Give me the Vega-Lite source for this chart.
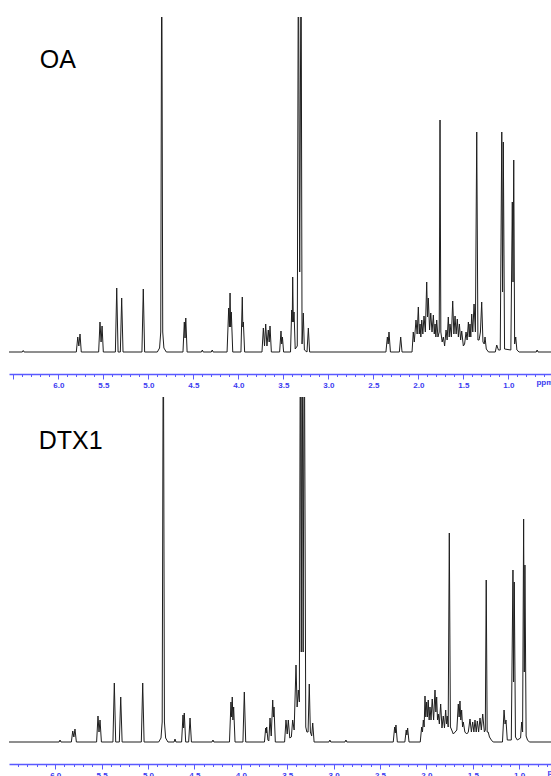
{
  "$schema": "https://vega.github.io/schema/vega-lite/v6.json",
  "padding": {"left": 9, "top": 17, "right": 0, "bottom": 0},
  "spacing": 23,
  "bounds": "flush",
  "background": "white",
  "config": {"view": {"stroke": null}},
  "datasets": {
    "oa": [
      {"ppm": 6.6, "int": 0}, {"ppm": 6.4, "int": 0}, {"ppm": 6.39, "int": 1.5}, {"ppm": 6.38, "int": 0},
      {"ppm": 5.8, "int": 0}, {"ppm": 5.784, "int": 15}, {"ppm": 5.772, "int": 6}, {"ppm": 5.759, "int": 18}, {"ppm": 5.745, "int": 0},
      {"ppm": 5.552, "int": 0}, {"ppm": 5.537, "int": 30}, {"ppm": 5.525, "int": 10}, {"ppm": 5.514, "int": 26}, {"ppm": 5.5, "int": 0},
      {"ppm": 5.366, "int": 0}, {"ppm": 5.351, "int": 64}, {"ppm": 5.336, "int": 0},
      {"ppm": 5.311, "int": 0}, {"ppm": 5.296, "int": 54}, {"ppm": 5.281, "int": 0},
      {"ppm": 5.071, "int": 0}, {"ppm": 5.056, "int": 63}, {"ppm": 5.041, "int": 0},
      {"ppm": 4.9, "int": 0}, {"ppm": 4.875, "int": 4}, {"ppm": 4.862, "int": 20}, {"ppm": 4.851, "int": 420}, {"ppm": 4.84, "int": 20}, {"ppm": 4.827, "int": 4}, {"ppm": 4.8, "int": 0},
      {"ppm": 4.615, "int": 0}, {"ppm": 4.6, "int": 30}, {"ppm": 4.592, "int": 14}, {"ppm": 4.584, "int": 34}, {"ppm": 4.569, "int": 0},
      {"ppm": 4.41, "int": 0}, {"ppm": 4.4, "int": 2}, {"ppm": 4.39, "int": 0},
      {"ppm": 4.3, "int": 0}, {"ppm": 4.29, "int": 2}, {"ppm": 4.28, "int": 0},
      {"ppm": 4.125, "int": 0}, {"ppm": 4.107, "int": 44}, {"ppm": 4.099, "int": 25}, {"ppm": 4.092, "int": 59}, {"ppm": 4.085, "int": 25}, {"ppm": 4.078, "int": 40}, {"ppm": 4.062, "int": 0},
      {"ppm": 3.971, "int": 0}, {"ppm": 3.956, "int": 55}, {"ppm": 3.95, "int": 25}, {"ppm": 3.944, "int": 30}, {"ppm": 3.93, "int": 0},
      {"ppm": 3.737, "int": 0}, {"ppm": 3.722, "int": 24}, {"ppm": 3.709, "int": 6}, {"ppm": 3.696, "int": 28}, {"ppm": 3.682, "int": 6}, {"ppm": 3.667, "int": 22}, {"ppm": 3.657, "int": 10}, {"ppm": 3.648, "int": 26}, {"ppm": 3.633, "int": 0},
      {"ppm": 3.541, "int": 0}, {"ppm": 3.526, "int": 21}, {"ppm": 3.518, "int": 8}, {"ppm": 3.51, "int": 15}, {"ppm": 3.497, "int": 0},
      {"ppm": 3.42, "int": 0}, {"ppm": 3.407, "int": 42}, {"ppm": 3.401, "int": 30}, {"ppm": 3.396, "int": 75}, {"ppm": 3.389, "int": 30}, {"ppm": 3.381, "int": 40}, {"ppm": 3.368, "int": 3},
      {"ppm": 3.345, "int": 6}, {"ppm": 3.333, "int": 420}, {"ppm": 3.318, "int": 80}, {"ppm": 3.303, "int": 420}, {"ppm": 3.292, "int": 8}, {"ppm": 3.278, "int": 39}, {"ppm": 3.266, "int": 2},
      {"ppm": 3.237, "int": 0}, {"ppm": 3.222, "int": 24}, {"ppm": 3.208, "int": 0},
      {"ppm": 2.36, "int": 0}, {"ppm": 2.344, "int": 15}, {"ppm": 2.335, "int": 8}, {"ppm": 2.326, "int": 20}, {"ppm": 2.31, "int": 0},
      {"ppm": 2.211, "int": 0}, {"ppm": 2.196, "int": 15}, {"ppm": 2.181, "int": 0},
      {"ppm": 2.07, "int": 0}, {"ppm": 2.056, "int": 20}, {"ppm": 2.045, "int": 10}, {"ppm": 2.026, "int": 32}, {"ppm": 2.013, "int": 18}, {"ppm": 2.0, "int": 45}, {"ppm": 1.99, "int": 18}, {"ppm": 1.981, "int": 28}, {"ppm": 1.972, "int": 15}, {"ppm": 1.962, "int": 32}, {"ppm": 1.95, "int": 18}, {"ppm": 1.937, "int": 36}, {"ppm": 1.922, "int": 20}, {"ppm": 1.907, "int": 70}, {"ppm": 1.898, "int": 35}, {"ppm": 1.889, "int": 54}, {"ppm": 1.875, "int": 22}, {"ppm": 1.862, "int": 39}, {"ppm": 1.848, "int": 20}, {"ppm": 1.833, "int": 37}, {"ppm": 1.823, "int": 18}, {"ppm": 1.814, "int": 28}, {"ppm": 1.805, "int": 15}, {"ppm": 1.796, "int": 32}, {"ppm": 1.782, "int": 15}, {"ppm": 1.768, "int": 20}, {"ppm": 1.759, "int": 232}, {"ppm": 1.75, "int": 20}, {"ppm": 1.735, "int": 10}, {"ppm": 1.722, "int": 15}, {"ppm": 1.708, "int": 6}, {"ppm": 1.692, "int": 22}, {"ppm": 1.68, "int": 12}, {"ppm": 1.667, "int": 35}, {"ppm": 1.657, "int": 15}, {"ppm": 1.648, "int": 28}, {"ppm": 1.633, "int": 15}, {"ppm": 1.618, "int": 51}, {"ppm": 1.605, "int": 18}, {"ppm": 1.592, "int": 36}, {"ppm": 1.58, "int": 18}, {"ppm": 1.567, "int": 33}, {"ppm": 1.555, "int": 15}, {"ppm": 1.544, "int": 28}, {"ppm": 1.53, "int": 12}, {"ppm": 1.518, "int": 21}, {"ppm": 1.5, "int": 6}, {"ppm": 1.486, "int": 8}, {"ppm": 1.47, "int": 20}, {"ppm": 1.458, "int": 12}, {"ppm": 1.444, "int": 30}, {"ppm": 1.434, "int": 15}, {"ppm": 1.426, "int": 28}, {"ppm": 1.417, "int": 15}, {"ppm": 1.407, "int": 38}, {"ppm": 1.395, "int": 20}, {"ppm": 1.381, "int": 48}, {"ppm": 1.366, "int": 20}, {"ppm": 1.351, "int": 220}, {"ppm": 1.338, "int": 12}, {"ppm": 1.325, "int": 12}, {"ppm": 1.31, "int": 20}, {"ppm": 1.296, "int": 50}, {"ppm": 1.282, "int": 10}, {"ppm": 1.268, "int": 8}, {"ppm": 1.259, "int": 15}, {"ppm": 1.245, "int": 3}, {"ppm": 1.22, "int": 0},
      {"ppm": 1.145, "int": 0}, {"ppm": 1.129, "int": 7}, {"ppm": 1.11, "int": 2},
      {"ppm": 1.09, "int": 2}, {"ppm": 1.073, "int": 220}, {"ppm": 1.064, "int": 60}, {"ppm": 1.056, "int": 210}, {"ppm": 1.042, "int": 3},
      {"ppm": 0.972, "int": 2}, {"ppm": 0.956, "int": 150}, {"ppm": 0.948, "int": 70}, {"ppm": 0.94, "int": 192}, {"ppm": 0.93, "int": 8}, {"ppm": 0.918, "int": 15}, {"ppm": 0.905, "int": 2}, {"ppm": 0.88, "int": 0},
      {"ppm": 0.69, "int": 0}, {"ppm": 0.68, "int": 2}, {"ppm": 0.67, "int": 0},
      {"ppm": 0.3, "int": 0}
    ],
    "dtx": [
      {"ppm": 6.6, "int": 0}, {"ppm": 5.958, "int": 0}, {"ppm": 5.948, "int": 2}, {"ppm": 5.938, "int": 0},
      {"ppm": 5.826, "int": 0}, {"ppm": 5.811, "int": 11}, {"ppm": 5.799, "int": 5}, {"ppm": 5.787, "int": 13}, {"ppm": 5.772, "int": 0},
      {"ppm": 5.554, "int": 0}, {"ppm": 5.539, "int": 26}, {"ppm": 5.528, "int": 10}, {"ppm": 5.517, "int": 22}, {"ppm": 5.502, "int": 0},
      {"ppm": 5.378, "int": 0}, {"ppm": 5.363, "int": 59}, {"ppm": 5.348, "int": 0},
      {"ppm": 5.309, "int": 0}, {"ppm": 5.294, "int": 45}, {"ppm": 5.279, "int": 0},
      {"ppm": 5.072, "int": 0}, {"ppm": 5.057, "int": 59}, {"ppm": 5.042, "int": 0},
      {"ppm": 4.885, "int": 0}, {"ppm": 4.86, "int": 4}, {"ppm": 4.847, "int": 20}, {"ppm": 4.835, "int": 450}, {"ppm": 4.823, "int": 20}, {"ppm": 4.81, "int": 4}, {"ppm": 4.785, "int": 0},
      {"ppm": 4.719, "int": 0}, {"ppm": 4.709, "int": 3}, {"ppm": 4.699, "int": 0},
      {"ppm": 4.638, "int": 0}, {"ppm": 4.623, "int": 27}, {"ppm": 4.616, "int": 14}, {"ppm": 4.609, "int": 29}, {"ppm": 4.594, "int": 0},
      {"ppm": 4.562, "int": 0}, {"ppm": 4.547, "int": 24}, {"ppm": 4.532, "int": 0},
      {"ppm": 4.31, "int": 0}, {"ppm": 4.3, "int": 2}, {"ppm": 4.29, "int": 0},
      {"ppm": 4.122, "int": 0}, {"ppm": 4.106, "int": 40}, {"ppm": 4.099, "int": 25}, {"ppm": 4.092, "int": 45}, {"ppm": 4.085, "int": 22}, {"ppm": 4.077, "int": 35}, {"ppm": 4.062, "int": 0},
      {"ppm": 3.977, "int": 0}, {"ppm": 3.962, "int": 50}, {"ppm": 3.947, "int": 0},
      {"ppm": 3.745, "int": 0}, {"ppm": 3.732, "int": 14}, {"ppm": 3.726, "int": 9}, {"ppm": 3.721, "int": 15}, {"ppm": 3.708, "int": 2}, {"ppm": 3.698, "int": 1}, {"ppm": 3.685, "int": 24}, {"ppm": 3.672, "int": 6}, {"ppm": 3.656, "int": 42}, {"ppm": 3.649, "int": 25}, {"ppm": 3.642, "int": 35}, {"ppm": 3.628, "int": 0},
      {"ppm": 3.528, "int": 0}, {"ppm": 3.513, "int": 22}, {"ppm": 3.5, "int": 8}, {"ppm": 3.488, "int": 22}, {"ppm": 3.472, "int": 4}, {"ppm": 3.455, "int": 5}, {"ppm": 3.441, "int": 22}, {"ppm": 3.425, "int": 12}, {"ppm": 3.405, "int": 77}, {"ppm": 3.393, "int": 35}, {"ppm": 3.38, "int": 52}, {"ppm": 3.369, "int": 40}, {"ppm": 3.358, "int": 450}, {"ppm": 3.348, "int": 90}, {"ppm": 3.339, "int": 450}, {"ppm": 3.328, "int": 90}, {"ppm": 3.316, "int": 450}, {"ppm": 3.3, "int": 15}, {"ppm": 3.288, "int": 10}, {"ppm": 3.275, "int": 10}, {"ppm": 3.262, "int": 58}, {"ppm": 3.25, "int": 10}, {"ppm": 3.236, "int": 6}, {"ppm": 3.225, "int": 19}, {"ppm": 3.21, "int": 0},
      {"ppm": 3.05, "int": 0}, {"ppm": 3.04, "int": 2}, {"ppm": 3.03, "int": 0},
      {"ppm": 2.877, "int": 0}, {"ppm": 2.867, "int": 2}, {"ppm": 2.857, "int": 0},
      {"ppm": 2.357, "int": 0}, {"ppm": 2.342, "int": 15}, {"ppm": 2.335, "int": 9}, {"ppm": 2.328, "int": 17}, {"ppm": 2.313, "int": 0},
      {"ppm": 2.232, "int": 0}, {"ppm": 2.217, "int": 12}, {"ppm": 2.21, "int": 7}, {"ppm": 2.202, "int": 14}, {"ppm": 2.187, "int": 0},
      {"ppm": 2.066, "int": 0}, {"ppm": 2.051, "int": 15}, {"ppm": 2.042, "int": 10}, {"ppm": 2.033, "int": 22}, {"ppm": 2.024, "int": 15}, {"ppm": 2.015, "int": 46}, {"ppm": 2.006, "int": 25}, {"ppm": 1.997, "int": 40}, {"ppm": 1.988, "int": 25}, {"ppm": 1.98, "int": 42}, {"ppm": 1.97, "int": 22}, {"ppm": 1.961, "int": 35}, {"ppm": 1.95, "int": 22}, {"ppm": 1.937, "int": 43}, {"ppm": 1.922, "int": 22}, {"ppm": 1.907, "int": 52}, {"ppm": 1.898, "int": 30}, {"ppm": 1.889, "int": 45}, {"ppm": 1.88, "int": 22}, {"ppm": 1.872, "int": 28}, {"ppm": 1.86, "int": 18}, {"ppm": 1.846, "int": 38}, {"ppm": 1.832, "int": 14}, {"ppm": 1.818, "int": 26}, {"ppm": 1.805, "int": 14}, {"ppm": 1.792, "int": 32}, {"ppm": 1.783, "int": 18}, {"ppm": 1.775, "int": 26}, {"ppm": 1.765, "int": 15}, {"ppm": 1.753, "int": 209}, {"ppm": 1.741, "int": 15}, {"ppm": 1.727, "int": 12}, {"ppm": 1.71, "int": 8}, {"ppm": 1.69, "int": 10}, {"ppm": 1.672, "int": 12}, {"ppm": 1.656, "int": 38}, {"ppm": 1.647, "int": 25}, {"ppm": 1.638, "int": 41}, {"ppm": 1.629, "int": 22}, {"ppm": 1.62, "int": 32}, {"ppm": 1.61, "int": 15}, {"ppm": 1.602, "int": 20}, {"ppm": 1.585, "int": 10}, {"ppm": 1.565, "int": 8}, {"ppm": 1.548, "int": 10}, {"ppm": 1.53, "int": 23}, {"ppm": 1.515, "int": 10}, {"ppm": 1.501, "int": 20}, {"ppm": 1.488, "int": 10}, {"ppm": 1.476, "int": 22}, {"ppm": 1.463, "int": 10}, {"ppm": 1.451, "int": 21}, {"ppm": 1.437, "int": 10}, {"ppm": 1.422, "int": 24}, {"ppm": 1.408, "int": 12}, {"ppm": 1.393, "int": 28}, {"ppm": 1.375, "int": 10}, {"ppm": 1.365, "int": 12}, {"ppm": 1.355, "int": 162}, {"ppm": 1.345, "int": 10}, {"ppm": 1.334, "int": 10}, {"ppm": 1.32, "int": 5}, {"ppm": 1.3, "int": 2}, {"ppm": 1.28, "int": 0},
      {"ppm": 1.18, "int": 0}, {"ppm": 1.163, "int": 32}, {"ppm": 1.152, "int": 18}, {"ppm": 1.142, "int": 22}, {"ppm": 1.128, "int": 2},
      {"ppm": 1.085, "int": 2}, {"ppm": 1.067, "int": 172}, {"ppm": 1.06, "int": 60}, {"ppm": 1.053, "int": 160}, {"ppm": 1.04, "int": 5}, {"ppm": 1.02, "int": 2},
      {"ppm": 0.985, "int": 4}, {"ppm": 0.973, "int": 20}, {"ppm": 0.963, "int": 10}, {"ppm": 0.952, "int": 223}, {"ppm": 0.945, "int": 70}, {"ppm": 0.938, "int": 177}, {"ppm": 0.925, "int": 6}, {"ppm": 0.91, "int": 2}, {"ppm": 0.89, "int": 0},
      {"ppm": 0.3, "int": 0}
    ],
    "labels": [
      {"panel": "OA", "ppm": 6.207, "int": 284.5, "label": "OA"},
      {"panel": "DTX1", "ppm": 6.178, "int": 292.8, "label": "DTX1"}
    ]
  },
  "vconcat": [
    {
      "width": 542,
      "height": 357,
      "encoding": {
        "x": {
          "field": "ppm", "type": "quantitative",
          "scale": {"domain": [0.526, 6.548], "reverse": true, "nice": false, "zero": false},
          "axis": {
            "title": null, "grid": false,
            "values": [6.5, 6.4, 6.3, 6.2, 6.1, 6.0, 5.9, 5.8, 5.7, 5.6, 5.5, 5.4, 5.3, 5.2, 5.1, 5.0, 4.9, 4.8, 4.7, 4.6, 4.5, 4.4, 4.3, 4.2, 4.1, 4.0, 3.9, 3.8, 3.7, 3.6, 3.5, 3.4, 3.3, 3.2, 3.1, 3.0, 2.9, 2.8, 2.7, 2.6, 2.5, 2.4, 2.3, 2.2, 2.1, 2.0, 1.9, 1.8, 1.7, 1.6, 1.5, 1.4, 1.3, 1.2, 1.1, 1.0, 0.9, 0.8, 0.7, 0.6],
            "domainColor": "#5a5aff", "domainWidth": 1.3,
            "tickColor": "#5a5aff", "tickWidth": 1,
            "tickSize": {"condition": {"test": "abs(datum.value*2-round(datum.value*2))<0.01", "value": 5}, "value": 2.5},
            "labelExpr": "abs(datum.value*2-round(datum.value*2))<0.01 && datum.value<6.3 ? format(datum.value,'.1f') : (abs(datum.value-0.6)<0.01 ? 'ppm' : '')",
            "labelColor": "#3b3bf0", "labelFont": "Liberation Sans", "labelFontSize": 8, "labelFontWeight": "bold",
            "labelPadding": 2, "labelOverlap": false, "labelFlush": false
          }
        },
        "y": {
          "field": "int", "type": "quantitative",
          "scale": {"domain": [-22, 335], "nice": false, "zero": false},
          "axis": null
        }
      },
      "layer": [
        {"data": {"name": "oa"}, "mark": {"type": "line", "clip": true, "color": "#1e1e1e", "strokeWidth": 1}},
        {"data": {"name": "labels"}, "transform": [{"filter": "datum.panel == 'OA'"}],
         "mark": {"type": "text", "align": "left", "baseline": "alphabetic", "font": "Liberation Sans", "fontSize": 25, "color": "#000000"},
         "encoding": {"text": {"field": "label"}}}
      ]
    },
    {
      "width": 542,
      "height": 367,
      "encoding": {
        "x": {
          "field": "ppm", "type": "quantitative",
          "scale": {"domain": [0.657, 6.498], "reverse": true, "nice": false, "zero": false},
          "axis": {
            "title": null, "grid": false,
            "values": [6.5, 6.4, 6.3, 6.2, 6.1, 6.0, 5.9, 5.8, 5.7, 5.6, 5.5, 5.4, 5.3, 5.2, 5.1, 5.0, 4.9, 4.8, 4.7, 4.6, 4.5, 4.4, 4.3, 4.2, 4.1, 4.0, 3.9, 3.8, 3.7, 3.6, 3.5, 3.4, 3.3, 3.2, 3.1, 3.0, 2.9, 2.8, 2.7, 2.6, 2.5, 2.4, 2.3, 2.2, 2.1, 2.0, 1.9, 1.8, 1.7, 1.6, 1.5, 1.4, 1.3, 1.2, 1.1, 1.0, 0.9, 0.8, 0.7],
            "domainColor": "#5a5aff", "domainWidth": 1.3,
            "tickColor": "#5a5aff", "tickWidth": 1,
            "tickSize": {"condition": {"test": "abs(datum.value*2-round(datum.value*2))<0.01", "value": 5}, "value": 2.5},
            "labelExpr": "abs(datum.value*2-round(datum.value*2))<0.01 && datum.value<6.3 ? format(datum.value,'.1f') : (abs(datum.value-0.7)<0.01 ? 'ppm' : '')",
            "labelAlign": {"condition": {"test": "abs(datum.value-0.7)<0.01", "value": "left"}, "value": "center"},
            "labelColor": "#3b3bf0", "labelFont": "Liberation Sans", "labelFontSize": 8, "labelFontWeight": "bold",
            "labelPadding": 2, "labelOverlap": false, "labelFlush": false
          }
        },
        "y": {
          "field": "int", "type": "quantitative",
          "scale": {"domain": [-22, 345], "nice": false, "zero": false},
          "axis": null
        }
      },
      "layer": [
        {"data": {"name": "dtx"}, "mark": {"type": "line", "clip": true, "color": "#1e1e1e", "strokeWidth": 1}},
        {"data": {"name": "labels"}, "transform": [{"filter": "datum.panel == 'DTX1'"}],
         "mark": {"type": "text", "align": "left", "baseline": "alphabetic", "font": "Liberation Sans", "fontSize": 25, "color": "#000000"},
         "encoding": {"text": {"field": "label"}}}
      ]
    }
  ]
}
